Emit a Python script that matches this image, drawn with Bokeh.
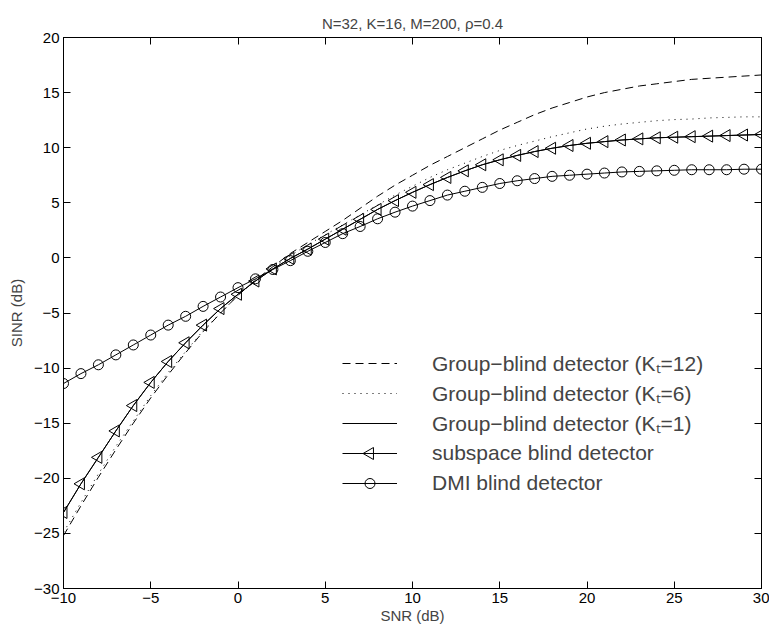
import math
from bokeh.plotting import figure
from bokeh.models import LinearAxis, FixedTicker, Legend, LegendItem, Range1d
from bokeh.embed import file_html
from bokeh.resources import INLINE

TITLE = "N=32, K=16, M=200, ρ=0.4"
XLABEL = "SNR (dB)"
YLABEL = "SINR (dB)"

x_ticks = [-10, -5, 0, 5, 10, 15, 20, 25, 30]
y_ticks = [-30, -25, -20, -15, -10, -5, 0, 5, 10, 15, 20]

snr = [-10, -9, -8, -7, -6, -5, -4, -3, -2, -1, 0, 1, 2, 3, 4, 5, 6, 7, 8, 9, 10,
       11, 12, 13, 14, 15, 16, 17, 18, 19, 20, 21, 22, 23, 24, 25, 26, 27, 28, 29, 30]

group_k12 = [-25.2, -22.5, -19.9, -17.4, -15.0, -12.7, -10.6, -8.6, -6.7, -5.0, -3.4,
             -2.0, -0.8, 0.4, 1.4, 2.4, 3.4, 4.5, 5.6, 6.6, 7.5,
             8.4, 9.2, 10.0, 10.8, 11.6, 12.3, 13.0, 13.6, 14.1, 14.6,
             15.0, 15.3, 15.6, 15.8, 16.0, 16.2, 16.3, 16.4, 16.5, 16.6]

group_k6 = [-24.9, -22.2, -19.6, -17.1, -14.8, -12.5, -10.4, -8.5, -6.6, -5.0, -3.4,
            -2.0, -0.9, 0.2, 1.2, 2.1, 3.0, 3.9, 4.8, 5.7, 6.5,
            7.3, 8.0, 8.6, 9.2, 9.75, 10.2, 10.6, 11.0, 11.35, 11.7,
            11.95, 12.15, 12.3, 12.45, 12.55, 12.6, 12.7, 12.75, 12.8, 12.8]

group_k1 = [-23.1, -20.5, -18.1, -15.7, -13.4, -11.3, -9.4, -7.7, -6.1, -4.6, -3.3,
            -2.1, -1.0, -0.05, 0.8, 1.7, 2.6, 3.5, 4.4, 5.2, 5.95,
            6.65, 7.3, 7.9, 8.45, 8.9, 9.3, 9.65, 9.95, 10.2, 10.4,
            10.55, 10.7, 10.8, 10.9, 10.95, 11.0, 11.05, 11.1, 11.15, 11.2]

subspace = [-23.1, -20.5, -18.1, -15.7, -13.4, -11.3, -9.4, -7.7, -6.1, -4.6, -3.3,
            -2.1, -1.0, -0.05, 0.8, 1.7, 2.6, 3.5, 4.4, 5.2, 5.95,
            6.65, 7.3, 7.9, 8.45, 8.9, 9.3, 9.65, 9.95, 10.2, 10.4,
            10.55, 10.7, 10.8, 10.9, 10.95, 11.0, 11.05, 11.1, 11.15, 11.2]

dmi = [-11.4, -10.5, -9.7, -8.8, -7.9, -7.0, -6.1, -5.3, -4.4, -3.55, -2.7,
       -1.9, -1.05, -0.25, 0.6, 1.4, 2.2, 2.85, 3.55, 4.15, 4.7,
       5.2, 5.7, 6.05, 6.4, 6.75, 7.0, 7.2, 7.4, 7.5, 7.6,
       7.7, 7.8, 7.85, 7.9, 7.95, 8.0, 8.0, 8.0, 8.05, 8.05]

labels = ["Group\u2212blind detector (K\u209c=12)",
          "Group\u2212blind detector (K\u209c=6)",
          "Group\u2212blind detector (K\u209c=1)",
          "subspace blind detector",
          "DMI blind detector"]

FONT = "Liberation Sans"

# layout constants (screen pixels)
W, H = 769, 630
BL, BR, BT, BB = 63, 8, 37, 42
FRAME_W, FRAME_H = W - BL - BR, H - BT - BB
LEG_X, LEG_Y, ROW_H, GLYPH_W = 279, 90, 30, 55
N_ROWS = 5

p = figure(width=W, height=H, x_range=Range1d(-10, 30), y_range=Range1d(-30, 20),
           output_backend="svg", toolbar_location=None,
           min_border_left=BL, min_border_right=BR, min_border_top=BT, min_border_bottom=BB)
p.title.text = TITLE
p.title.text_font = FONT
p.title.text_font_size = "15px"
p.title.text_font_style = "normal"
p.title.align = "center"
p.title.standoff = 12
p.grid.visible = False
p.background_fill_color = "white"
p.border_fill_color = "white"
p.outline_line_color = "black"
p.outline_line_width = 1

# pixel-space ranges used only to place the legend key markers
p.extra_x_ranges = {"px": Range1d(0, FRAME_W)}
p.extra_y_ranges = {"py": Range1d(0, FRAME_H)}


def minus(v):
    return str(v).replace("-", "\u2212")


def style_axis(ax, ticks, show_labels):
    ax.ticker = FixedTicker(ticks=ticks)
    ax.major_tick_in = 7
    ax.major_tick_out = 0
    ax.minor_tick_line_color = None
    ax.axis_line_color = "black"
    ax.major_tick_line_color = "black"
    ax.major_label_text_font = FONT
    ax.major_label_text_font_size = "15px"
    ax.major_label_text_color = "black"
    if show_labels:
        ax.major_label_overrides = {t: minus(t) for t in ticks}
    else:
        ax.major_label_overrides = {t: "" for t in ticks}
        ax.major_label_standoff = 0


style_axis(p.xaxis[0], x_ticks, True)
style_axis(p.yaxis[0], y_ticks, True)
p.xaxis[0].axis_label = XLABEL
p.yaxis[0].axis_label = YLABEL
for ax in (p.xaxis[0], p.yaxis[0]):
    ax.axis_label_text_font = FONT
    ax.axis_label_text_font_size = "15px"
    ax.axis_label_text_font_style = "normal"
    ax.major_label_standoff = 4
p.xaxis[0].axis_label_standoff = 1
p.yaxis[0].axis_label_standoff = 6

top = LinearAxis()
style_axis(top, x_ticks, False)
right = LinearAxis()
style_axis(right, y_ticks, False)
p.add_layout(top, "above")
p.add_layout(right, "right")

r_k12 = p.line(snr, group_k12, line_color="black", line_width=1, line_dash="8 5")
r_k6 = p.line(snr, group_k6, line_color="black", line_width=1, line_dash="1 5")
r_k1 = p.line(snr, group_k1, line_color="black", line_width=1)
r_sub_l = p.line(snr, subspace, line_color="black", line_width=1)
r_sub_m = p.scatter(snr, subspace, marker="triangle", angle=math.pi / 2, size=12,
                    fill_color=None, line_color="black", line_width=1)
r_dmi_l = p.line(snr, dmi, line_color="black", line_width=1)
r_dmi_m = p.scatter(snr, dmi, marker="circle", size=10,
                    fill_color=None, line_color="black", line_width=1)

legend = Legend(items=[
    LegendItem(label=labels[0], renderers=[r_k12]),
    LegendItem(label=labels[1], renderers=[r_k6]),
    LegendItem(label=labels[2], renderers=[r_k1]),
    LegendItem(label=labels[3], renderers=[r_sub_l]),
    LegendItem(label=labels[4], renderers=[r_dmi_l]),
], location=(LEG_X, LEG_Y), padding=0, margin=0, border_line_color=None,
   background_fill_alpha=0, glyph_width=GLYPH_W, glyph_height=ROW_H, label_height=ROW_H,
   spacing=0, label_standoff=35, label_text_font=FONT, label_text_font_size="21px")
p.add_layout(legend)

# legend key markers (left-pointing triangle and circle), in pixel space
key_x = LEG_X + GLYPH_W / 2
row_center = lambda i: LEG_Y + (N_ROWS - i - 0.5) * ROW_H
p.scatter([key_x], [row_center(3)], marker="triangle", angle=math.pi / 2, size=12,
          fill_color=None, line_color="black", line_width=1,
          x_range_name="px", y_range_name="py")
p.scatter([key_x], [row_center(4)], marker="circle", size=10,
          fill_color=None, line_color="black", line_width=1,
          x_range_name="px", y_range_name="py")

open("out.html", "w").write(file_html(p, INLINE))
